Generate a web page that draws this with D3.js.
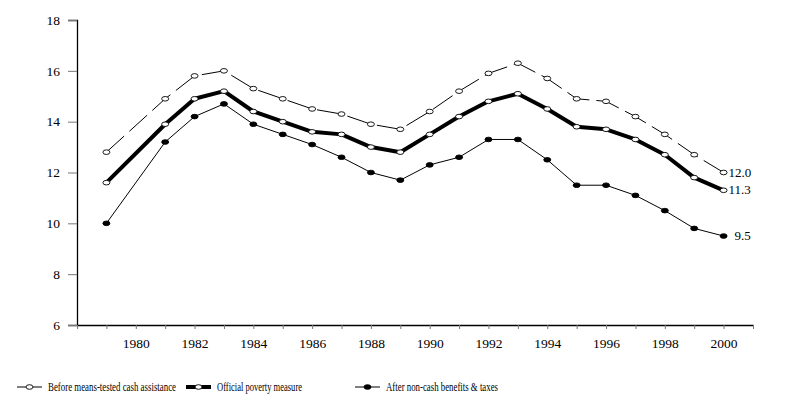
<!DOCTYPE html>
<html>
<head>
<meta charset="utf-8">
<script src="https://cdn.jsdelivr.net/npm/d3@7"></script>
<style>
  body { margin: 0; background: #fff; }
</style>
</head>
<body>
<div id="okvir"></div>
<script>
// 1980 nema podatka u izvoru - linija ide ravno od 1979 do 1981
const years = d3.range(1979, 2001)
const beforeCash = [12.8, null, 14.9, 15.8, 16.0, 15.3, 14.9, 14.5, 14.3, 13.9, 13.7,
  14.4, 15.2, 15.9, 16.3, 15.7, 14.9, 14.8, 14.2, 13.5, 12.7, 12.0]
const official = [11.6, null, 13.9, 14.9, 15.2, 14.4, 14.0, 13.6, 13.5, 13.0, 12.8,
  13.5, 14.2, 14.8, 15.1, 14.5, 13.8, 13.7, 13.3, 12.7, 11.8, 11.3]
const afterNonCash = [10.0, null, 13.2, 14.2, 14.7, 13.9, 13.5, 13.1, 12.6, 12.0, 11.7,
  12.3, 12.6, 13.3, 13.3, 12.5, 11.5, 11.5, 11.1, 10.5, 9.8, 9.5]
const yTicks = [6, 8, 10, 12, 14, 16, 18]
const xLabels = d3.range(1980, 2001, 2)
const seriesNames = ["Before means-tested cash assistance", "Official poverty measure", "After non-cash benefits & taxes"]
const endLabels = ["12.0", "11.3", "9.5"]

const FONT = "'Liberation Serif', 'Times New Roman', 'DejaVu Serif', serif"
const dim = { sirina: 794, visina: 411 }
const okvir = d3.select("#okvir").append("svg")
  .attr("width", dim.sirina)
  .attr("height", dim.visina)
  .style("font-family", FONT)

const xSkala = d3.scaleLinear().domain([1978, 2001]).range([77, 753])
const ySkala = d3.scaleLinear().domain([6, 18]).range([325, 20])

// y os
const yOs = okvir.append("g")
  .attr("transform", "translate(77,0)")
  .call(d3.axisLeft(ySkala).tickValues(yTicks).tickSize(9).tickPadding(8).tickFormat(d3.format("d")))
yOs.attr("font-family", null)
yOs.select(".domain").attr("stroke", "#000").attr("stroke-width", 1.3)
yOs.selectAll(".tick line").attr("stroke", "#777")
yOs.selectAll("text").style("font-size", "13.5px").style("font-family", FONT)

// x os
const xOs = okvir.append("g")
  .attr("transform", "translate(0,325)")
  .call(d3.axisBottom(xSkala).tickValues(d3.range(1978, 2002)).tickSize(4).tickSizeOuter(0)
    .tickFormat(d => xLabels.includes(d) ? d : ""))
xOs.attr("font-family", null)
xOs.select(".domain").attr("stroke", "#000").attr("stroke-width", 1.3)
xOs.selectAll(".tick line").attr("stroke", "#777")
xOs.selectAll("text").style("font-size", "13.5px").style("font-family", FONT).attr("dy", "1.2em")

const serije = [
  { vals: beforeCash, width: 1, dash: "24,7", fill: "#fff" },
  { vals: official, width: 4, dash: null, fill: "#fff" },
  { vals: afterNonCash, width: 1, dash: null, fill: "#000" }
]
serije.forEach(s => {
  s.points = years.map((y, i) => ({ year: y, value: s.vals[i] })).filter(p => p.value != null)
})

const linija = d3.line()
  .x(d => xSkala(d.year))
  .y(d => ySkala(d.value))

serije.forEach(s => {
  okvir.append("path")
    .attr("d", linija(s.points))
    .attr("fill", "none")
    .attr("stroke", "#000")
    .attr("stroke-width", s.width)
    .attr("stroke-dasharray", s.dash)
    .attr("stroke-linejoin", "round")
})

serije.forEach(s => {
  okvir.append("g").selectAll("ellipse").data(s.points).join("ellipse")
    .attr("cx", d => xSkala(d.year))
    .attr("cy", d => ySkala(d.value))
    .attr("rx", 3.5)
    .attr("ry", 2.3)
    .attr("fill", s.fill)
    .attr("stroke", "#000")
    .attr("stroke-width", 0.9)
})

// oznake na kraju
const zadnji = serije.map(s => s.points[s.points.length - 1])
okvir.append("g").selectAll("text").data(zadnji).join("text")
  .attr("x", (d, i) => xSkala(d.year) + (i === 2 ? 11 : 5))
  .attr("y", d => ySkala(d.value) + 4)
  .style("font-size", "13px")
  .text((d, i) => endLabels[i])

// legenda
const legX = [17, 186, 355]
const legW = [128, 85, 112]
const leg = okvir.append("g").selectAll("g").data(serije).join("g")
  .attr("transform", (d, i) => `translate(${legX[i]},387)`)
leg.append("line")
  .attr("x1", 0).attr("x2", 25)
  .attr("stroke", "#000")
  .attr("stroke-width", d => d.width)
leg.append("ellipse")
  .attr("cx", 12.5).attr("rx", 3.5).attr("ry", 2.3)
  .attr("fill", d => d.fill)
  .attr("stroke", "#000")
  .attr("stroke-width", 0.9)
leg.append("text")
  .attr("x", 31)
  .attr("y", 4)
  .style("font-size", "12px")
  .attr("textLength", (d, i) => legW[i])
  .attr("lengthAdjust", "spacingAndGlyphs")
  .text((d, i) => seriesNames[i])
</script>
</body>
</html>
